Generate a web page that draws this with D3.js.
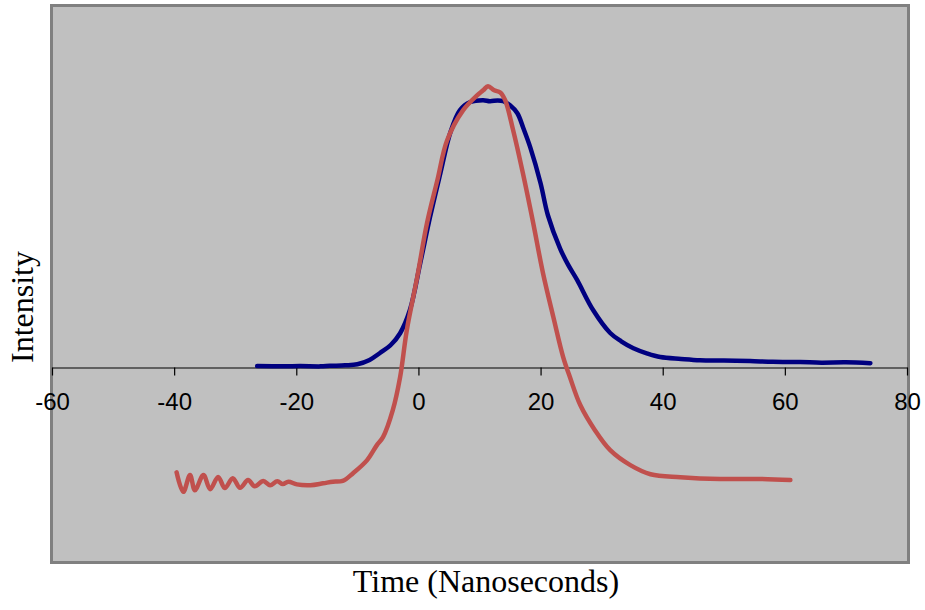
<!DOCTYPE html>
<html>
<head>
<meta charset="utf-8">
<script src="https://cdn.jsdelivr.net/npm/d3@7"></script>
<style>
  body { margin: 0; background: #fff; }
  .chart-pulse__tick text { font-family: "Liberation Sans", Arial, sans-serif; font-size: 24px; fill: #000; }
  .chart-pulse__title { font-family: "Liberation Serif", "Times New Roman", serif; font-size: 32px; fill: #000; }
</style>
</head>
<body>
<div id="chart"></div>
<script>
// x axis ticks (ns)
const xTicks = [-60, -40, -20, 0, 20, 40, 60, 80];

// blue trace
const blueTime = [-26.4, -22, -19.4, -16, -14.5, -12, -10.0, -8, -6.3, -4.5, -3.0, -1.4, 0.3, 1.9, 3.6, 5.2, 6.8, 8.5, 10.6, 11.7, 13.0, 13.9, 15.0, 16.2, 17.2, 18.3, 20.0, 21.2, 23.2, 24.5, 26.0, 28.6, 31.4, 33.2, 35.2, 37.5, 39.6, 43.0, 46.1, 50.0, 54.3, 58.0, 62.5, 66.0, 70.0, 74.0];
const blueIntensity = [0.5, 0.4, 0.5, 0.4, 0.6, 0.8, 1.2, 2.8, 5.4, 8.5, 12.8, 21.5, 39.1, 56.3, 72.8, 87.8, 96.4, 99.4, 100.1, 99.7, 100.0, 99.7, 98.2, 95.2, 89.5, 82.5, 69.0, 57.0, 44.5, 38.5, 32.7, 21.5, 12.9, 9.8, 7.2, 5.2, 3.9, 3.2, 2.7, 2.6, 2.4, 2.1, 2.0, 1.8, 1.9, 1.6];

// red trace
const redTime = [-39.6, -38.5, -37.4, -36.6, -35.2, -34.1, -32.8, -31.7, -30.4, -29.2, -27.9, -26.8, -25.4, -24.3, -23.1, -22.2, -21.3, -19.9, -17.7, -15.6, -14.0, -12.4, -10.7, -8.4, -6.8, -5.8, -4.2, -3.0, -1.9, -0.2, 1.4, 3.1, 4.7, 7.3, 9.6, 10.6, 11.4, 12.4, 13.4, 14.2, 15.5, 17.1, 18.8, 20.4, 22.1, 23.7, 24.8, 26.5, 28.9, 31.4, 34.7, 38.0, 42.9, 49.4, 56.0, 60.9];
const redIntensity = [-39.3, -46.6, -40.3, -46.0, -40.3, -45.6, -41.0, -45.2, -41.5, -45.1, -42.2, -44.5, -42.5, -44.1, -42.6, -43.7, -42.8, -43.8, -44.1, -43.4, -42.8, -42.5, -39.6, -34.7, -29.1, -26.1, -16.0, -3.6, 14.0, 33.8, 54.0, 70.1, 85.1, 96.3, 101.9, 103.8, 105.3, 103.8, 103.0, 100.1, 88.9, 72.8, 54.0, 35.3, 18.8, 3.9, -3.6, -14.1, -23.5, -31.0, -36.6, -40.0, -41.1, -41.8, -41.8, -42.2];

class PulseChart {
    constructor(div) {
        this.elements = { container: div, scales: {} };
        this.settings = {
            mainClass: 'chart-pulse',
            width: 925,
            height: 610,
            plot: { left: 53, top: 7, right: 907, bottom: 561, border: 3 },
        };
    }

    render() {
        this.createSvg();
        this.createScales();
        this.drawFrame();
        this.drawAxis();
        this.drawLine(blueTime, blueIntensity, '#000080');
        this.drawLine(redTime, redIntensity, '#C0504D');
        this.addTitles();
    }

    createSvg() {
        const { width, height, mainClass } = this.settings;
        this.elements.svg = d3.select(this.elements.container)
            .append('svg')
            .attr('class', mainClass)
            .attr('width', width)
            .attr('height', height);
    }

    createScales() {
        const { plot } = this.settings;
        this.elements.scales.x = d3.scaleLinear().domain([-60, 80]).range([52, 907]);
        this.elements.scales.y = d3.scaleLinear().domain([-72.5, 135]).range([plot.bottom, plot.top]);
    }

    drawFrame() {
        const { plot } = this.settings;
        const b = plot.border;
        this.elements.svg.append('rect')
            .attr('x', plot.left - b / 2)
            .attr('y', plot.top - b / 2)
            .attr('width', plot.right - plot.left + b)
            .attr('height', plot.bottom - plot.top + b)
            .attr('fill', '#C0C0C0')
            .attr('stroke', '#808080')
            .attr('stroke-width', b);
    }

    drawAxis() {
        const { svg, scales: { x, y } } = this.elements;
        const { mainClass } = this.settings;
        // plain hyphen for negatives, like the original
        const axis = d3.axisBottom(x)
            .tickValues(xTicks)
            .tickSize(8)
            .tickSizeOuter(0)
            .tickPadding(17)
            .tickFormat((d) => String(d));

        const g = svg.append('g')
            .attr('transform', `translate(0, ${Math.round(y(0)) + 0.5})`)
            .call(axis);
        g.select('.domain').attr('stroke', '#000').attr('stroke-width', 1.2);
        g.selectAll('.tick').attr('class', `tick ${mainClass}__tick`);
        g.selectAll('.tick line').attr('stroke', '#000').attr('stroke-width', 1.2);
        g.selectAll('.tick text').attr('font-family', null).attr('font-size', null);
    }

    drawLine(xs, ys, color) {
        const { svg, scales: { x, y } } = this.elements;
        const line = d3.line()
            .x((d, i) => x(xs[i]))
            .y((d) => y(d))
            .curve(d3.curveCatmullRom.alpha(0.5));
        svg.append('path')
            .datum(ys)
            .attr('d', line)
            .attr('fill', 'none')
            .attr('stroke', color)
            .attr('stroke-width', 4.5)
            .attr('stroke-linejoin', 'round')
            .attr('stroke-linecap', 'round');
    }

    addTitles() {
        const { svg } = this.elements;
        const { mainClass } = this.settings;
        svg.append('text')
            .attr('class', `${mainClass}__title`)
            .attr('x', 486)
            .attr('y', 592)
            .attr('text-anchor', 'middle')
            .text('Time (Nanoseconds)');

        svg.append('text')
            .attr('class', `${mainClass}__title`)
            .attr('transform', 'translate(33, 307) rotate(-90)')
            .attr('text-anchor', 'middle')
            .text('Intensity');
    }
}

new PulseChart(document.getElementById('chart')).render();
</script>
</body>
</html>
